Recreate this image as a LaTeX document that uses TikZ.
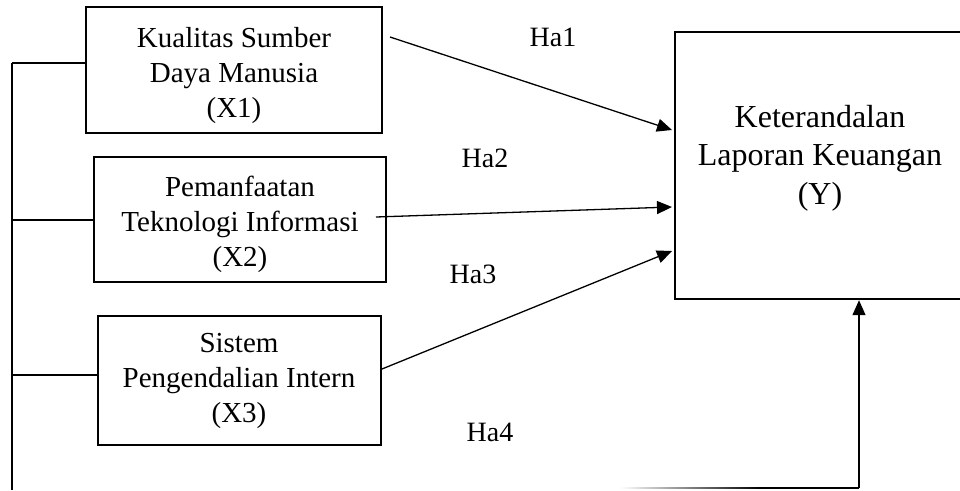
\documentclass[tikz,border=0pt]{standalone}
\usepackage{fontspec}
\setmainfont{Liberation Serif}
\usetikzlibrary{arrows.meta}
\tikzset{
  boxx/.style={draw, line width=2.4pt, inner sep=0pt},
  txtx/.style={align=center, font=\fontsize{29}{35}\selectfont, inner sep=0pt},
  txty/.style={align=center, font=\fontsize{32}{38.5}\selectfont, inner sep=0pt},
  lab/.style={font=\fontsize{28}{32}\selectfont, inner sep=0pt},
  conn/.style={line width=1.3pt},
  arr/.style={line width=1.3pt, -{Triangle[length=15pt,width=13pt]}}
}
\begin{document}
\begin{tikzpicture}[x=1pt,y=-1pt]
\useasboundingbox (0,0) rectangle (960,490);
\begin{scope}
\clip (0,0) rectangle (960,490);
% boxes
\node[boxx, minimum width=296pt, minimum height=126pt] (X1) at (234,70) {};
\node[boxx, minimum width=292pt, minimum height=125pt] (X2) at (240,219.5) {};
\node[boxx, minimum width=283pt, minimum height=129pt] (X3) at (239.5,380.5) {};
\node[boxx, minimum width=291pt, minimum height=267pt] (Y) at (820.5,165.5) {};
% texts
\node[txtx] (T1) at (234,76) {Kualitas Sumber\\Daya Manusia\\(X1)};
\node[txtx] (T2) at (240,224) {Pemanfaatan\\Teknologi Informasi\\(X2)};
\node[txtx] (T3) at (239,381) {Sistem\\Pengendalian Intern\\(X3)};
\node[txty] (TY) at (820,158) {Keterandalan\\Laporan Keuangan\\(Y)};
% labels
\node[lab] (H1) at (553,37) {Ha1};
\node[lab] (H2) at (485,158) {Ha2};
\node[lab] (H3) at (473,274) {Ha3};
\node[lab] (H4) at (490,432) {Ha4};
% left feeder
\coordinate (j1) at (12,63);
\coordinate (j2) at (12,220);
\coordinate (j3) at (12,375);
\coordinate (j4) at (12,490);
\draw[conn] (j1) -- (j4);
\draw[conn] (j1) -- (j1 -| X1.west);
\draw[conn] (j2) -- (j2 -| X2.west);
\draw[conn] (j3) -- (j3 -| X3.west);
% arrows to Y
\coordinate (s1) at (390,37);
\coordinate (e1) at (672,130);
\coordinate (s2) at (376,217);
\coordinate (e2) at (672,207);
\coordinate (s3) at (382,369);
\coordinate (e3) at (672,251);
\draw[arr] (s1) -- (e1);
\draw[arr] (s2) -- (e2);
\draw[arr] (s3) -- (e3);
% bottom path Ha4
\coordinate (b0) at (620,488);
\coordinate (b1) at (760,488);
\coordinate (b2) at (859,488);
\shade[left color=white, right color=black] (620,487.35) rectangle (760,488.65);
\draw[conn] (b1) -- (b2);
\draw[arr] (b2) -- (b2 |- Y.south);
\end{scope}
\end{tikzpicture}
\end{document}
